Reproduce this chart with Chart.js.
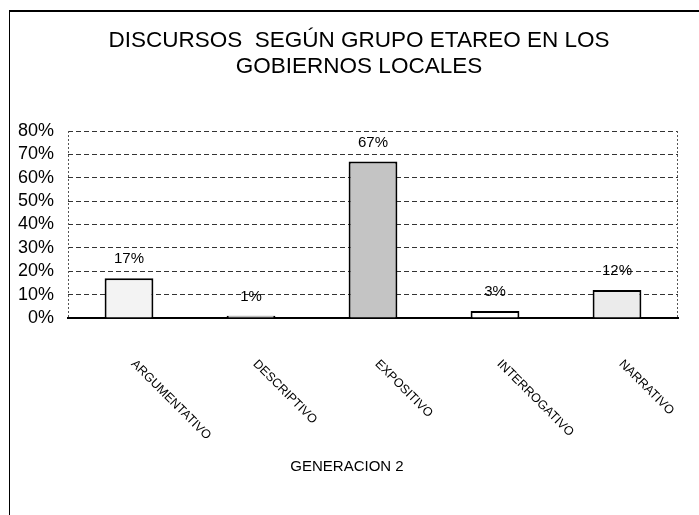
<!DOCTYPE html>
<html>
<head>
<meta charset="utf-8">
<script src="https://cdn.jsdelivr.net/npm/chart.js@4"></script>
<style>
  html, body { margin: 0; padding: 0; background: #fff; }
  #wrap { width: 699px; height: 515px; }
</style>
</head>
<body>
<div id="wrap"><canvas id="discChart" width="699" height="515"></canvas></div>
<script>
// data
const categories = ['ARGUMENTATIVO', 'DESCRIPTIVO', 'EXPOSITIVO', 'INTERROGATIVO', 'NARRATIVO'];
const percentages = [17, 1, 67, 3, 12];
const yTicks = [0, 10, 20, 30, 40, 50, 60, 70, 80];
const barFills = ['#f3f3f3', '#ffffff', '#c4c4c4', '#ffffff', '#ebebeb'];
const titleLines = ['DISCURSOS  SEGÚN GRUPO ETAREO EN LOS', 'GOBIERNOS LOCALES'];
const xTitle = 'GENERACION 2';

const FONT = 'Liberation Sans, Arial, sans-serif';

// frame, titles, plot edges, slanted category names, value labels
const decorations = {
  id: 'decorations',
  afterDraw(chart) {
    const ctx = chart.ctx;
    const area = chart.chartArea;
    const xs = chart.scales.x;
    ctx.save();
    // outer frame (top + left only)
    ctx.strokeStyle = '#000';
    ctx.lineWidth = 2;
    ctx.beginPath();
    ctx.moveTo(9, 11); ctx.lineTo(699, 11);
    ctx.stroke();
    ctx.lineWidth = 1;
    ctx.beginPath();
    ctx.moveTo(9.5, 11); ctx.lineTo(9.5, 515);
    ctx.stroke();
    // dotted plot sides
    ctx.strokeStyle = '#555';
    ctx.setLineDash([2, 2]);
    ctx.beginPath();
    ctx.moveTo(area.left + 0.5, area.top); ctx.lineTo(area.left + 0.5, area.bottom);
    ctx.moveTo(area.right - 0.5, area.top); ctx.lineTo(area.right - 0.5, area.bottom);
    ctx.stroke();
    ctx.setLineDash([]);
    // chart title (a bit right of the plot centre, like the original)
    ctx.fillStyle = '#000';
    ctx.textAlign = 'center';
    ctx.textBaseline = 'middle';
    ctx.font = '22.5px ' + FONT;
    ctx.fillText(titleLines[0], 359, 41);
    ctx.fillText(titleLines[1], 359, 67);
    // category names going down-right
    ctx.font = '12.5px ' + FONT;
    ctx.textAlign = 'left';
    categories.forEach((c, i) => {
      const x = xs.getPixelForTick(i);
      ctx.save();
      ctx.translate(x + 4, area.bottom + 44);
      ctx.rotate(45 * Math.PI / 180);
      ctx.fillText(c, 0, 0);
      ctx.restore();
    });
    // value labels above bars
    ctx.font = '15px ' + FONT;
    ctx.textAlign = 'center';
    const meta = chart.getDatasetMeta(0);
    meta.data.forEach((bar, i) => {
      ctx.fillText(percentages[i] + '%', bar.x, bar.y - 19);
    });
    // axis title
    ctx.fillText(xTitle, 347, 467);
    ctx.restore();
  }
};

new Chart(document.getElementById('discChart'), {
  type: 'bar',
  data: {
    labels: categories,
    datasets: [{
      data: percentages,
      backgroundColor: barFills,
      borderColor: '#000',
      borderWidth: 2,
      barPercentage: 0.4,
      categoryPercentage: 1.0
    }]
  },
  options: {
    responsive: false,
    animation: false,
    layout: { padding: { left: 9, right: 21, top: 131, bottom: 0 } },
    plugins: {
      legend: { display: false },
      tooltip: { enabled: false },
      title: { display: false }
    },
    scales: {
      x: {
        grid: { display: false },
        border: { display: true, color: '#000', width: 2 },
        ticks: { display: false },
        afterFit: (scale) => { scale.height = 197; }
      },
      y: {
        min: 0,
        max: 80,
        afterBuildTicks: (scale) => { scale.ticks = yTicks.map(v => ({ value: v })); },
        afterFit: (scale) => { scale.width = 59; },
        border: { display: false, dash: [5, 3] },
        grid: {
          drawTicks: false,
          color: (c) => c.tick && c.tick.value === 0 ? 'rgba(0,0,0,0)' : '#333',
          lineWidth: 1
        },
        ticks: {
          autoSkip: false,
          color: '#000',
          padding: 14,
          font: { family: FONT, size: 18 },
          callback: (v) => v + '%'
        }
      }
    }
  },
  plugins: [decorations]
});
</script>
</body>
</html>
